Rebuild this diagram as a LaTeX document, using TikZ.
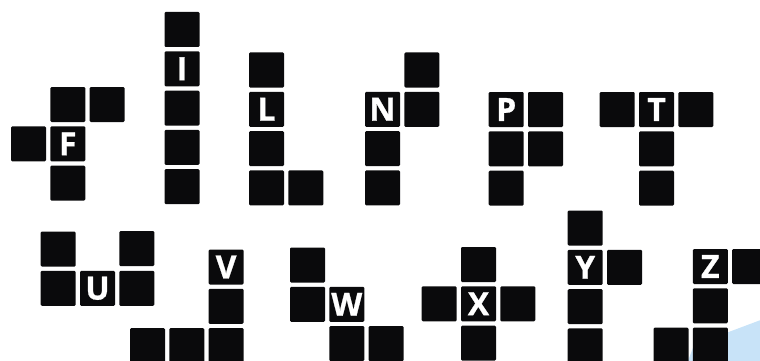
\documentclass[tikz,border=0pt]{standalone}
\usepackage{fontspec}
\newfontfamily\pentfont{Open Sans}[BoldFeatures={FakeBold=0.8}]
\definecolor{blk}{RGB}{10,10,12}
\definecolor{skyblue}{RGB}{200,227,248}
\begin{document}
\begin{tikzpicture}[x=1pt,y=-1pt,
  sq/.style={anchor=north west,minimum size=35pt,inner sep=0pt,outer sep=0pt,
    fill=blk,rounded corners=1.2pt,text=white,
    font=\pentfont\bfseries\fontsize{32}{32}\selectfont}]
\def\pp{39.3}
\useasboundingbox (0,0) rectangle (760,361);
\clip (0,0) rectangle (760,361);
% light blue shape
\fill[skyblue] (694,345) -- (790,309) -- (790,400) -- (680,382) -- cycle;
% F
\begin{scope}[shift={(11,87)}]
  \node[sq] (F1) at (1*\pp,0) {};
  \node[sq] (F2) at (2*\pp,0) {};
  \node[sq] (F3) at (0,1*\pp) {};
  \node[sq] (F4) at (1*\pp,1*\pp) {F};
  \node[sq] (F5) at (1*\pp,2*\pp) {};
\end{scope}
% I
\begin{scope}[shift={(164.5,12)}]
  \node[sq] (I1) at (0,0) {};
  \node[sq] (I2) at (0,1*\pp) {I};
  \node[sq] (I3) at (0,2*\pp) {};
  \node[sq] (I4) at (0,3*\pp) {};
  \node[sq] (I5) at (0,4*\pp) {};
\end{scope}
% L
\begin{scope}[shift={(249,52.5)}]
  \node[sq] (L1) at (0,0) {};
  \node[sq] (L2) at (0,1*\pp) {L};
  \node[sq] (L3) at (0,2*\pp) {};
  \node[sq] (L4) at (0,3*\pp) {};
  \node[sq] (L5) at (1*\pp,3*\pp) {};
\end{scope}
% N
\begin{scope}[shift={(365,52.5)}]
  \node[sq] (N1) at (1*\pp,0) {};
  \node[sq] (N2) at (0,1*\pp) {N};
  \node[sq] (N3) at (1*\pp,1*\pp) {};
  \node[sq] (N4) at (0,2*\pp) {};
  \node[sq] (N5) at (0,3*\pp) {};
\end{scope}
% P
\begin{scope}[shift={(488.7,92)}]
  \node[sq] (P1) at (0,0) {P};
  \node[sq] (P2) at (1*\pp,0) {};
  \node[sq] (P3) at (0,1*\pp) {};
  \node[sq] (P4) at (1*\pp,1*\pp) {};
  \node[sq] (P5) at (0,2*\pp) {};
\end{scope}
% T
\begin{scope}[shift={(599.7,92)}]
  \node[sq] (T1) at (0,0) {};
  \node[sq] (T2) at (1*\pp,0) {T};
  \node[sq] (T3) at (2*\pp,0) {};
  \node[sq] (T4) at (1*\pp,1*\pp) {};
  \node[sq] (T5) at (1*\pp,2*\pp) {};
\end{scope}
% U
\begin{scope}[shift={(40.7,231.5)}]
  \node[sq] (U1) at (0,0) {};
  \node[sq] (U2) at (2*\pp,-0.5) {};
  \node[sq] (U3) at (0,1*\pp) {};
  \node[sq] (U4) at (1*\pp,1*\pp) {U};
  \node[sq] (U5) at (2*\pp,1*\pp) {};
\end{scope}
% V
\begin{scope}[shift={(130,249.5)}]
  \node[sq] (V1) at (2*\pp,0) {V};
  \node[sq] (V2) at (2*\pp,1*\pp) {};
  \node[sq] (V3) at (0,2*\pp) {};
  \node[sq] (V4) at (1*\pp,2*\pp) {};
  \node[sq] (V5) at (2*\pp,2*\pp) {};
\end{scope}
% W
\begin{scope}[shift={(290,247.5)}]
  \node[sq] (W1) at (0,0) {};
  \node[sq] (W2) at (0,1*\pp) {};
  \node[sq] (W3) at (1*\pp,1*\pp) {W};
  \node[sq] (W4) at (1*\pp,2*\pp) {};
  \node[sq] (W5) at (2*\pp,2*\pp) {};
\end{scope}
% X
\begin{scope}[shift={(421.7,247)}]
  \node[sq] (X1) at (1*\pp,0) {};
  \node[sq] (X2) at (0,1*\pp) {};
  \node[sq] (X3) at (1*\pp,1*\pp) {X};
  \node[sq] (X4) at (2*\pp,1*\pp) {};
  \node[sq] (X5) at (1*\pp,2*\pp) {};
\end{scope}
% Y
\begin{scope}[shift={(567.7,210.5)}]
  \node[sq] (Y1) at (0,0) {};
  \node[sq] (Y2) at (0,1*\pp) {Y};
  \node[sq] (Y3) at (1*\pp,1*\pp) {};
  \node[sq] (Y4) at (0,2*\pp) {};
  \node[sq] (Y5) at (0,3*\pp) {};
\end{scope}
% Z
\begin{scope}[shift={(653.5,249)}]
  \node[sq] (Z1) at (1*\pp,0) {Z};
  \node[sq] (Z2) at (2*\pp,0) {};
  \node[sq] (Z3) at (1*\pp,1*\pp) {};
  \node[sq] (Z4) at (0,2*\pp) {};
  \node[sq] (Z5) at (1*\pp,2*\pp) {};
\end{scope}
\end{tikzpicture}
\end{document}
